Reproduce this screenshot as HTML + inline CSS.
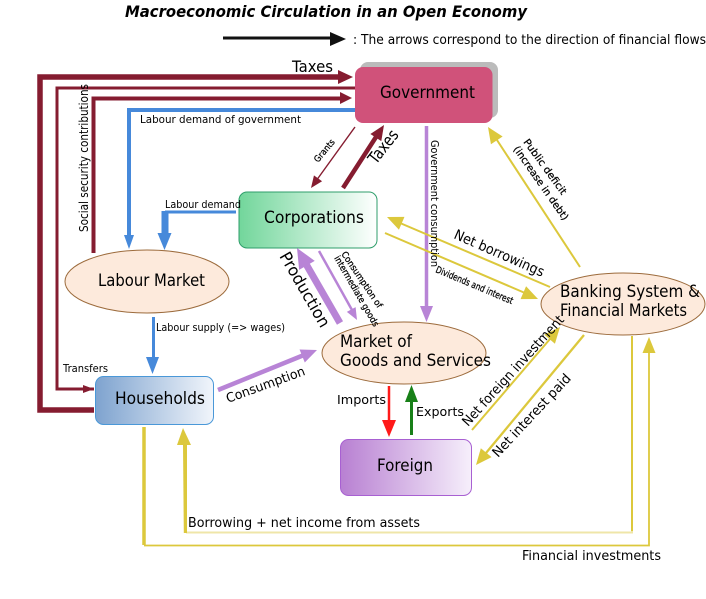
<!DOCTYPE html>
<html><head><meta charset="utf-8"><style>
html,body{margin:0;padding:0;background:#fff}
svg{display:block}
text{font-family:"DejaVu Sans","Liberation Sans",sans-serif;fill:#000}
.d{stroke:#000;stroke-width:.25}
</style></head><body>
<svg width="706" height="599" viewBox="0 0 706 599" xmlns="http://www.w3.org/2000/svg">
<defs>
<linearGradient id="gc"><stop offset="0" stop-color="#72d69b"/><stop offset="1" stop-color="#fff"/></linearGradient>
<linearGradient id="gh"><stop offset="0" stop-color="#7ea3cf"/><stop offset="1" stop-color="#f1f5fb"/></linearGradient>
<linearGradient id="gf"><stop offset="0" stop-color="#b880d2"/><stop offset="1" stop-color="#f6effb"/></linearGradient>
</defs>
<rect width="706" height="599" fill="#fff"/>

<!-- maroon flows -->
<g fill="none" stroke="#851c30">
<path d="M94 410H40V77H340" stroke-width="5.500"/>
<path d="M94 389H57V88H355" stroke-width="3"/>
<path d="M93.500 253V98.500H342" stroke-width="4"/>
</g>
<g fill="#851c30">
<polygon points="353,77 338,70 338,84"/>
<polygon points="94,389 83,385 83,393"/>
<polygon points="352,98 340,92 340,104"/>
</g>

<!-- shapes -->
<rect x="360" y="62" width="138" height="56" rx="8" fill="#bbb"/>
<rect x="355" y="67" width="137.500" height="56" rx="8" fill="#d0527a"/>
<rect x="239" y="192" width="138" height="56" rx="8" fill="url(#gc)" stroke="#2f9e6b" stroke-width="1"/>
<rect x="95.500" y="376.500" width="118" height="48" rx="8" fill="url(#gh)" stroke="#4a98d8" stroke-width="1"/>
<rect x="340.500" y="439.500" width="131" height="56" rx="8" fill="url(#gf)" stroke="#a860d2" stroke-width="1"/>
<ellipse cx="147" cy="281.500" rx="82" ry="31.500" fill="#fdeadc" stroke="#9c6b3c" stroke-width="1"/>
<ellipse cx="404" cy="353" rx="82" ry="31" fill="#fdeadc" stroke="#9c6b3c" stroke-width="1"/>
<ellipse cx="623" cy="304" rx="82" ry="31" fill="#fdeadc" stroke="#9c6b3c" stroke-width="1"/>

<!-- legend arrow -->
<path d="M223 38H332" stroke="#111" stroke-width="3" fill="none"/>
<polygon points="346,39 330,32 330,46" fill="#111"/>

<!-- blue flows -->
<g fill="none" stroke="#4689da">
<path d="M355 110H129V237" stroke-width="4"/>
<path d="M236 212H165" stroke-width="3"/>
<path d="M165 211V234" stroke-width="7"/>
<path d="M153.500 317V360" stroke-width="3"/>
</g>
<g fill="#4689da">
<polygon points="129,249 124,235 134,235"/>
<polygon points="164.500,250 157.500,233 171.500,233"/>
<polygon points="152.500,374 146,357 159,357"/>
</g>

<!-- yellow L-shaped flows -->
<path d="M144 427V545" stroke="#dcc83c" stroke-width="3.500" fill="none"/>
<path d="M144 545.500H649V350" stroke="#dcc83c" stroke-width="1.800" fill="none"/>
<polygon points="649,337 642.500,353 655.500,353" fill="#dcc83c"/>
<path d="M632 336V532.500H186" stroke="#efe6a8" stroke-width="2" fill="none"/>
<path d="M632 336V531" stroke="#dcc83c" stroke-width="2" fill="none"/>
<polygon points="183,445 187,445 187,533 183.800,533" fill="#dcc83c"/>
<polygon points="183,428 177,445 191,445" fill="#dcc83c"/>

<!-- straight lines -->
<g fill="none" stroke-linecap="butt">
<line x1="355" y1="127" x2="316" y2="181" stroke="#851c30" stroke-width="1.400"/>
<line x1="343" y1="188" x2="376" y2="137" stroke="#851c30" stroke-width="4.500"/>
<line x1="426.500" y1="126" x2="426.500" y2="308" stroke="#b884d6" stroke-width="3.500"/>
<line x1="580" y1="267" x2="495" y2="137" stroke="#dcc83c" stroke-width="2"/>
<line x1="550" y1="287" x2="400" y2="223" stroke="#dcc83c" stroke-width="2"/>
<line x1="385" y1="233" x2="525" y2="293" stroke="#dcc83c" stroke-width="2"/>
<line x1="340" y1="323" x2="306" y2="264" stroke="#b884d6" stroke-width="7"/>
<line x1="319" y1="251" x2="352" y2="310" stroke="#b884d6" stroke-width="2.500"/>
<line x1="218" y1="390" x2="304" y2="355" stroke="#b884d6" stroke-width="4.500"/>
<line x1="472" y1="430" x2="550" y2="339" stroke="#dcc83c" stroke-width="2"/>
<line x1="584" y1="335" x2="486" y2="453" stroke="#dcc83c" stroke-width="2.300"/>
<line x1="389" y1="386" x2="389" y2="422" stroke="#ff1a1a" stroke-width="2.500"/>
<line x1="411.500" y1="435" x2="411.500" y2="400" stroke="#188018" stroke-width="3"/>
</g>

<!-- heads: tip at origin, pointing along +x -->
<g transform="translate(311,188) rotate(125.800)"><polygon points="0,0 -12,-5 -12,5" fill="#851c30"/></g>
<g transform="translate(384,125) rotate(-57)"><polygon points="0,0 -15,-6.500 -15,6.500" fill="#851c30"/></g>
<polygon points="426.500,322 420,306 433,306" fill="#b884d6"/>
<g transform="translate(488,127) rotate(236.700)"><polygon points="0,0 -16,-7 -16,7" fill="#dcc83c"/></g>
<g transform="translate(387,217) rotate(203.200)"><polygon points="0,0 -16,-7 -16,7" fill="#dcc83c"/></g>
<g transform="translate(538,299) rotate(23.300)"><polygon points="0,0 -16,-7 -16,7" fill="#dcc83c"/></g>
<g transform="translate(297,248) rotate(240.200)"><polygon points="0,0 -20,-9 -20,9" fill="#b884d6"/></g>
<g transform="translate(357,320) rotate(61.200)"><polygon points="0,0 -12,-5 -12,5" fill="#b884d6"/></g>
<g transform="translate(317,350) rotate(-22)"><polygon points="0,0 -16,-7 -16,7" fill="#b884d6"/></g>
<g transform="translate(560,327) rotate(-49.500)"><polygon points="0,0 -16,-7 -16,7" fill="#dcc83c"/></g>
<g transform="translate(476,465) rotate(129.700)"><polygon points="0,0 -16,-7 -16,7" fill="#dcc83c"/></g>
<polygon points="389,437 382,420 396,420" fill="#ff1a1a"/>
<polygon points="411.500,385 405,402 418,402" fill="#188018"/>

<!-- labels -->
<text x="125" y="17" font-size="16" font-weight="bold" font-style="italic" textLength="402" lengthAdjust="spacingAndGlyphs">Macroeconomic Circulation in an Open Economy</text>
<text x="353" y="44" font-size="13" textLength="353" lengthAdjust="spacingAndGlyphs">: The arrows correspond to the direction of financial flows</text>
<text x="292" y="72" font-size="16" textLength="41" lengthAdjust="spacingAndGlyphs">Taxes</text>
<text x="380" y="98" font-size="16.500" textLength="95" lengthAdjust="spacingAndGlyphs">Government</text>
<text x="264" y="223" font-size="16.500" textLength="100" lengthAdjust="spacingAndGlyphs">Corporations</text>
<text x="98" y="286" font-size="16.500" textLength="107" lengthAdjust="spacingAndGlyphs">Labour Market</text>
<text x="115" y="404" font-size="16.500" textLength="90" lengthAdjust="spacingAndGlyphs">Households</text>
<text x="340" y="347" font-size="16.500" textLength="72" lengthAdjust="spacingAndGlyphs">Market of</text>
<text x="340" y="366" font-size="16.500" textLength="151" lengthAdjust="spacingAndGlyphs">Goods and Services</text>
<text x="377" y="471" font-size="16.500" textLength="56" lengthAdjust="spacingAndGlyphs">Foreign</text>
<text x="560" y="297" font-size="16.500" textLength="140" lengthAdjust="spacingAndGlyphs">Banking System &amp;</text>
<text x="560" y="316" font-size="16.500" textLength="127" lengthAdjust="spacingAndGlyphs">Financial Markets</text>

<text x="140" y="123" font-size="11" textLength="161" lengthAdjust="spacingAndGlyphs">Labour demand of government</text>
<text x="165" y="208" font-size="11" textLength="76" lengthAdjust="spacingAndGlyphs">Labour demand</text>
<text x="156" y="331" font-size="11" textLength="129" lengthAdjust="spacingAndGlyphs">Labour supply (=&gt; wages)</text>
<text x="63" y="372" font-size="11" textLength="45" lengthAdjust="spacingAndGlyphs">Transfers</text>
<text x="337" y="404" font-size="12" textLength="49" lengthAdjust="spacingAndGlyphs">Imports</text>
<text x="416" y="416" font-size="12" textLength="48" lengthAdjust="spacingAndGlyphs">Exports</text>
<text x="188" y="527" font-size="13" textLength="232" lengthAdjust="spacingAndGlyphs">Borrowing + net income from assets</text>
<text x="522" y="560" font-size="13" textLength="139" lengthAdjust="spacingAndGlyphs">Financial investments</text>

<text transform="translate(88,232) rotate(-90)" font-size="12.500" textLength="148" lengthAdjust="spacingAndGlyphs">Social security contributions</text>
<text class="d" transform="translate(318,163) rotate(-50)" font-size="9" textLength="27" lengthAdjust="spacingAndGlyphs">Grants</text>
<text transform="translate(376,165) rotate(-52)" font-size="16.500" textLength="38" lengthAdjust="spacingAndGlyphs">Taxes</text>
<text transform="translate(431,140) rotate(90)" font-size="11" textLength="127" lengthAdjust="spacingAndGlyphs">Government consumption</text>
<text class="d" transform="translate(523,142) rotate(54)" font-size="10" textLength="66" lengthAdjust="spacingAndGlyphs">Public deficit</text>
<text class="d" transform="translate(513,149) rotate(55)" font-size="10" textLength="88" lengthAdjust="spacingAndGlyphs">(increase in debt)</text>
<text transform="translate(453,238) rotate(23.700)" font-size="14" textLength="97" lengthAdjust="spacingAndGlyphs">Net borrowings</text>
<text class="d" transform="translate(435,272) rotate(22.800)" font-size="9.500" textLength="83" lengthAdjust="spacingAndGlyphs">Dividends and interest</text>
<text transform="translate(279,256) rotate(60)" font-size="16.500" textLength="84" lengthAdjust="spacingAndGlyphs">Production</text>
<text class="d" transform="translate(341,254) rotate(56)" font-size="9" textLength="66" lengthAdjust="spacingAndGlyphs">Consumption of</text>
<text class="d" transform="translate(334,258) rotate(60)" font-size="9" textLength="80" lengthAdjust="spacingAndGlyphs">intermediate goods</text>
<text transform="translate(228,403) rotate(-20)" font-size="13" textLength="83" lengthAdjust="spacingAndGlyphs">Consumption</text>
<text transform="translate(468,427) rotate(-47.800)" font-size="13.500" textLength="144" lengthAdjust="spacingAndGlyphs">Net foreign investment</text>
<text transform="translate(498,458) rotate(-47)" font-size="13.500" textLength="108" lengthAdjust="spacingAndGlyphs">Net interest paid</text>
</svg>
</body></html>
